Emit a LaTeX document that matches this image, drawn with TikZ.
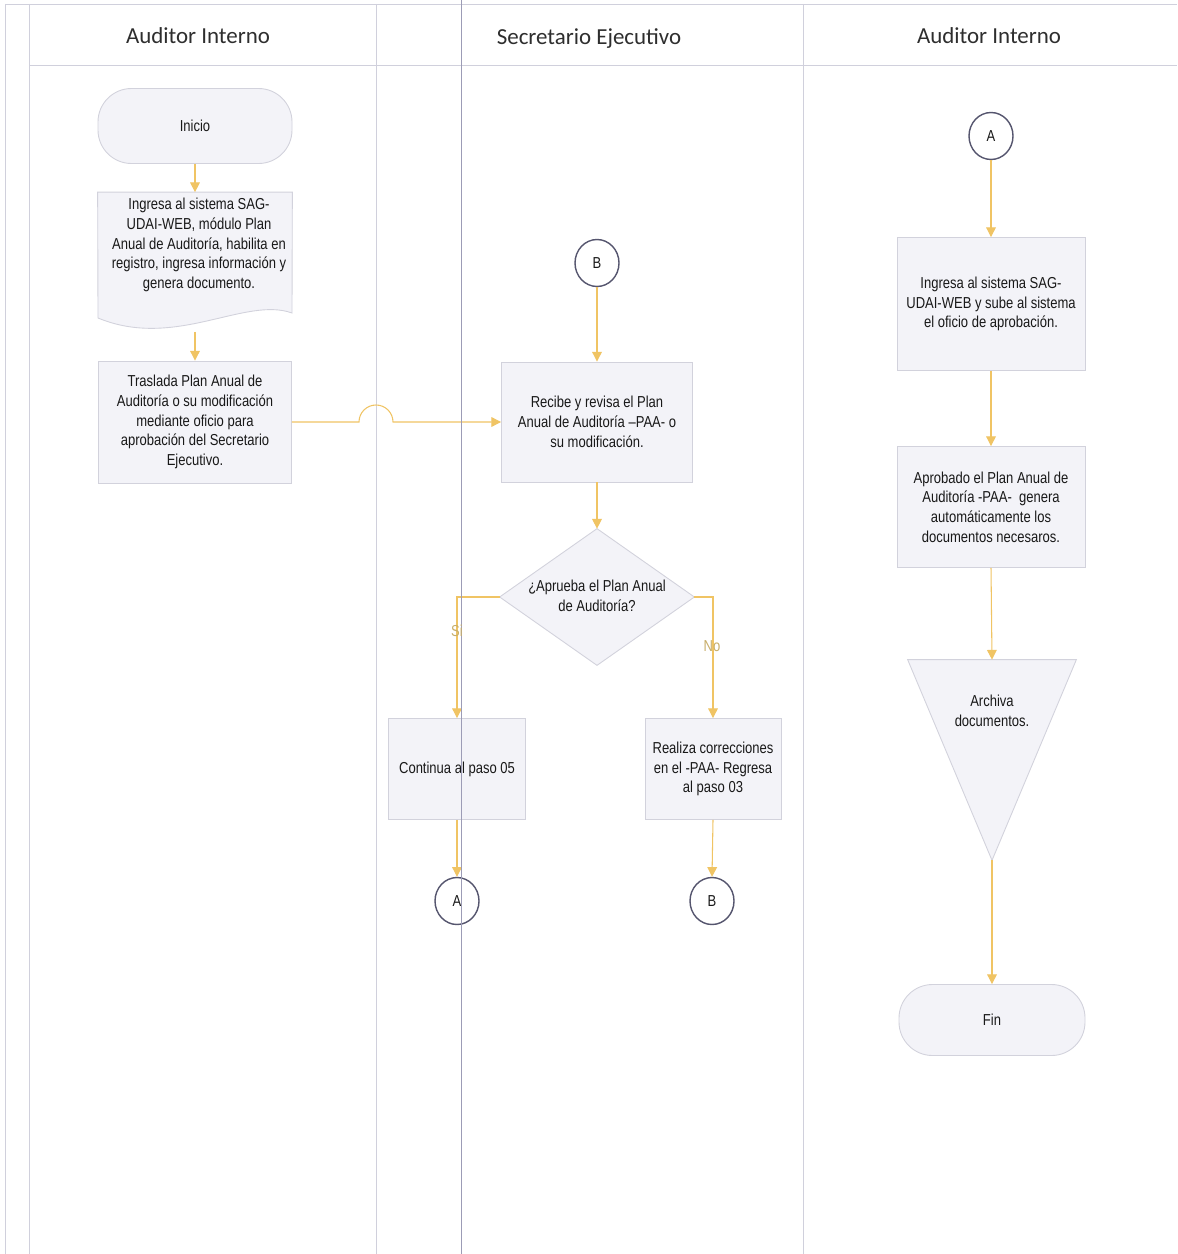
\documentclass[tikz,border=0pt]{standalone}
\usepackage{fontspec}
\setmainfont{Liberation Sans}
\newfontfamily\nodefont[FakeStretch=0.82]{Liberation Sans}
\newfontfamily\headfont{Carlito}
\usetikzlibrary{arrows.meta,calc,shapes.geometric}
\definecolor{lanecol}{HTML}{D0D0DC}
\definecolor{flowcol}{HTML}{F0C464}
\definecolor{boxfill}{HTML}{F3F3F8}
\definecolor{boxdraw}{HTML}{D2D2DC}
\definecolor{circdraw}{HTML}{55556E}
\definecolor{foldcol}{HTML}{9C9CB6}
\definecolor{labcol}{HTML}{C8AE6A}
\def\pxu{0.567pt}
\begin{document}
\begin{tikzpicture}[x=0.567pt,y=-0.567pt,
  txt/.style={font=\nodefont\fontsize{9}{11.2}\selectfont, align=center, text=black!90},
  headtxt/.style={font=\headfont\fontsize{13}{15}\selectfont, text=black!82},
  procbox/.style 2 args={txt, rectangle, draw=boxdraw, fill=boxfill, line width=0.5pt,
     minimum width=#1*\pxu, minimum height=#2*\pxu, inner sep=0pt},
  termbox/.style 2 args={procbox={#1}{#2}, rounded corners=19pt},
  ghost/.style 2 args={txt, rectangle, draw=none, minimum width=#1*\pxu, minimum height=#2*\pxu, inner sep=0pt},
  shapefill/.style={draw=boxdraw, fill=boxfill, line width=0.5pt},
  conn/.style={txt, ellipse, draw=circdraw, fill=white, line width=0.8pt,
     minimum width=44*\pxu, minimum height=47*\pxu, inner sep=0pt},
  flow/.style={draw=flowcol, line width=0.6pt, -{Triangle[length=5.5pt,width=5.5pt]}},
  lane/.style={draw=lanecol, line width=0.5pt},
  flowlab/.style={font=\nodefont\fontsize{9}{11}\selectfont, text=labcol}
]
\useasboundingbox (0,0) rectangle (1177,1254);
\fill[white] (0,0) rectangle (1177,1254);

% lanes
\draw[lane] (5,4) -- (1177,4);
\draw[lane] (29,65) -- (1177,65);
\draw[lane] (5,4) -- (5,1254);
\draw[lane] (29,4) -- (29,1254);
\draw[lane] (376,4) -- (376,1254);
\draw[lane] (803,4) -- (803,1254);

\node[headtxt] (h1) at (198,36) {Auditor Interno};
\node[headtxt] (h2) at (589,39) {Secretario Ejecutivo};
\node[headtxt] (h3) at (989,36) {Auditor Interno};

% lane 1
\node[termbox={194}{75}] (inicio) at (195,126) {Inicio};
\node[ghost={194}{139}] (ingresa) at (195,262) {};
\draw[shapefill] (ingresa.north west) -- (ingresa.north east) -- (292,313)
   .. controls (245,296) and (175,350) .. (98,318) -- cycle;
\node[txt] (ingresaT) at (199,245) {Ingresa al sistema SAG-\\UDAI-WEB, módulo Plan\\Anual de Auditoría, habilita en\\registro, ingresa información y\\genera documento.};
\node[procbox={193}{122}] (traslada) at (195,422) {Traslada Plan Anual de\\Auditoría o su modificación\\mediante oficio para\\aprobación del Secretario\\Ejecutivo.};

% lane 2
\node[conn] (b1) at (597,263) {B};
\node[procbox={191}{120}] (recibe) at (597,422) {Recibe y revisa el Plan\\Anual de Auditoría –PAA- o\\su modificación.};
\node[ghost={194}{136}] (dec) at (597,597) {};
\draw[shapefill] (dec.north) -- (dec.east) -- (dec.south) -- (dec.west) -- cycle;
\node[txt] (decT) at (597,596) {¿Aprueba el Plan Anual\\de Auditoría?};
\node[procbox={137}{101}] (continua) at (457,769) {Continua al paso 05};
\node[procbox={136}{101}] (realiza) at (713,769) {Realiza correcciones\\en el -PAA- Regresa\\al paso 03};
\node[conn] (a1) at (457,901) {A};
\node[conn] (b2) at (712,901) {B};

% lane 3
\node[conn] (a2) at (991,136) {A};
\node[procbox={188}{133}] (ingresa2) at (991,304) {Ingresa al sistema SAG-\\UDAI-WEB y sube al sistema\\el oficio de aprobación.};
\node[procbox={188}{121}] (aprobado) at (991,507) {Aprobado el Plan Anual de\\Auditoría -PAA-~ genera\\automáticamente los\\documentos necesaros.};
\node[ghost={168}{200}] (archiva) at (992,760) {};
\draw[shapefill] (archiva.north west) -- (archiva.north east) -- (archiva.south) -- cycle;
\node[txt] (archivaT) at (992,711) {Archiva\\documentos.};
\node[termbox={186}{71}] (fin) at (992,1020) {Fin};

% connectors
\draw[flow] (inicio.south) -- (ingresa.north);
\draw[flow] (ingresa.south) -- (traslada.north);
\coordinate (j1) at (359,422);
\draw[flow] (traslada.east) -- (j1) arc (180:360:17) -- (recibe.west);
\draw[flow] (b1.south) -- (recibe.north);
\draw[flow] (recibe.south) -- (dec.north);
\draw[flow] (dec.west) -| (continua.north);
\draw[flow] (dec.east) -| (realiza.north);
\draw[flow] (continua.south) -- (a1.north);
\draw[flow] (realiza.south) -- (b2.north);
\draw[flow] (a2.south) -- (ingresa2.north);
\draw[flow] (ingresa2.south) -- (aprobado.north);
\draw[flow] (aprobado.south) -- (archiva.north);
\draw[flow] (archiva.south) -- (fin.north);

% fold line of the scanned page
\draw[draw=foldcol, line width=0.5pt] (461,0) -- (461,1254);

% branch labels
\node[flowlab] (si) at (457,631) {Si};
\node[flowlab] (no) at (712,646) {No};
\end{tikzpicture}
\end{document}
